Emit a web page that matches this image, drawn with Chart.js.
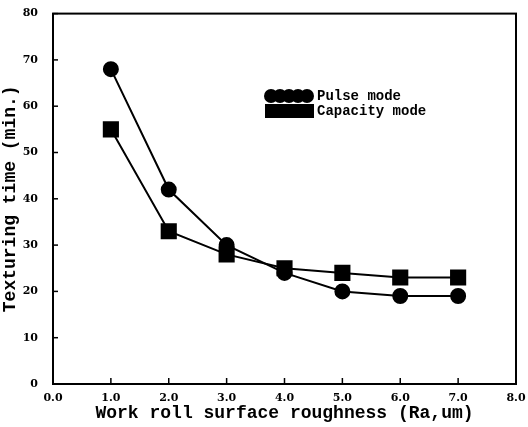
<!DOCTYPE html>
<html lang="en">
<head>
  <meta charset="UTF-8">
  <script src="https://cdn.jsdelivr.net/npm/chart.js"></script>
  <title>Texturing time</title>
  <style>
    html, body { margin: 0; padding: 0; background: #fff; }
    #wrap { width: 528px; height: 427px; }
  </style>
</head>
<body>
  <div id="wrap"><canvas id="grafico" width="528" height="427"></canvas></div>
<script>
  // values
  const roughness = [1, 2, 3, 4, 5, 6, 7];
  const pulseMode = [68, 42, 30, 24, 20, 19, 19];
  const capacityMode = [55, 33, 28, 25, 24, 23, 23];
  const seriesNames = ['Pulse mode', 'Capacity mode'];
  const xTitle = 'Work roll surface roughness (Ra,um)';
  const yTitle = 'Texturing time (min.)';

  const toPoints = (ys) => roughness.map((x, i) => ({ x: x, y: ys[i] }));

  const tickFont = { family: 'DejaVu Serif', size: 11, weight: 'bold' };
  const titleFont = { family: 'Liberation Mono', size: 18, weight: 'bold' };

  // frame, inward ticks and the legend block
  const moldura = {
    id: 'moldura',
    afterDatasetsDraw(chart) {
      const { ctx, chartArea: a, scales } = chart;
      ctx.save();
      ctx.strokeStyle = '#000';
      ctx.lineWidth = 2;
      ctx.strokeRect(a.left, a.top, a.right - a.left, a.bottom - a.top);
      ctx.lineWidth = 1.5;
      scales.y.ticks.forEach(t => {
        const py = scales.y.getPixelForValue(t.value);
        ctx.beginPath(); ctx.moveTo(a.left, py); ctx.lineTo(a.left + 5, py); ctx.stroke();
      });
      scales.x.ticks.forEach(t => {
        const px = scales.x.getPixelForValue(t.value);
        ctx.beginPath(); ctx.moveTo(px, a.bottom); ctx.lineTo(px, a.bottom - 6); ctx.stroke();
      });

      // legend
      const lx = 265, ly = 96;
      ctx.fillStyle = '#000';
      chart.data.datasets.forEach((ds, i) => {
        const y = ly + i * 15;
        if (ds.pointStyle === 'circle') {
          for (let k = 0; k < 5; k++) {
            ctx.beginPath(); ctx.arc(lx + 6 + k * 9, y, 7, 0, Math.PI * 2); ctx.fill();
          }
        } else {
          ctx.fillRect(lx, y - 7, 49, 14);
        }
        ctx.font = 'bold 14px "Liberation Mono"';
        ctx.textBaseline = 'middle';
        ctx.textAlign = 'left';
        ctx.fillText(ds.label, lx + 52, y);
      });
      ctx.restore();
    }
  };

  new Chart(document.getElementById('grafico'), {
    type: 'line',
    data: {
      datasets: [
        {
          label: seriesNames[0],
          data: toPoints(pulseMode),
          borderColor: '#000',
          backgroundColor: '#000',
          borderWidth: 2,
          pointStyle: 'circle',
          pointRadius: 7,
          tension: 0
        },
        {
          label: seriesNames[1],
          data: toPoints(capacityMode),
          borderColor: '#000',
          backgroundColor: '#000',
          borderWidth: 2,
          pointStyle: 'rect',
          pointRadius: 10,
          tension: 0
        }
      ]
    },
    options: {
      responsive: false,
      animation: false,
      layout: { padding: { top: 13, right: 11, left: 0, bottom: 0 } },
      plugins: { legend: { display: false }, tooltip: { enabled: false } },
      scales: {
        x: {
          type: 'linear',
          min: 0, max: 8,
          grid: { display: false },
          border: { display: false },
          ticks: {
            stepSize: 1, color: '#000', font: tickFont, padding: 0,
            callback: (v) => v.toFixed(1)
          },
          title: { display: true, text: xTitle, color: '#000', font: titleFont, padding: { top: 0, bottom: 3 } },
          afterFit(s) { s.height = 43; }
        },
        y: {
          min: 0, max: 80,
          grid: { display: false },
          border: { display: false },
          ticks: { stepSize: 10, color: '#000', font: tickFont, padding: 7 },
          title: { display: true, text: yTitle, color: '#000', font: titleFont, padding: { top: 0, bottom: 4 } },
          afterFit(s) { s.width = 53; }
        }
      }
    },
    plugins: [moldura]
  });
</script>
</body>
</html>
